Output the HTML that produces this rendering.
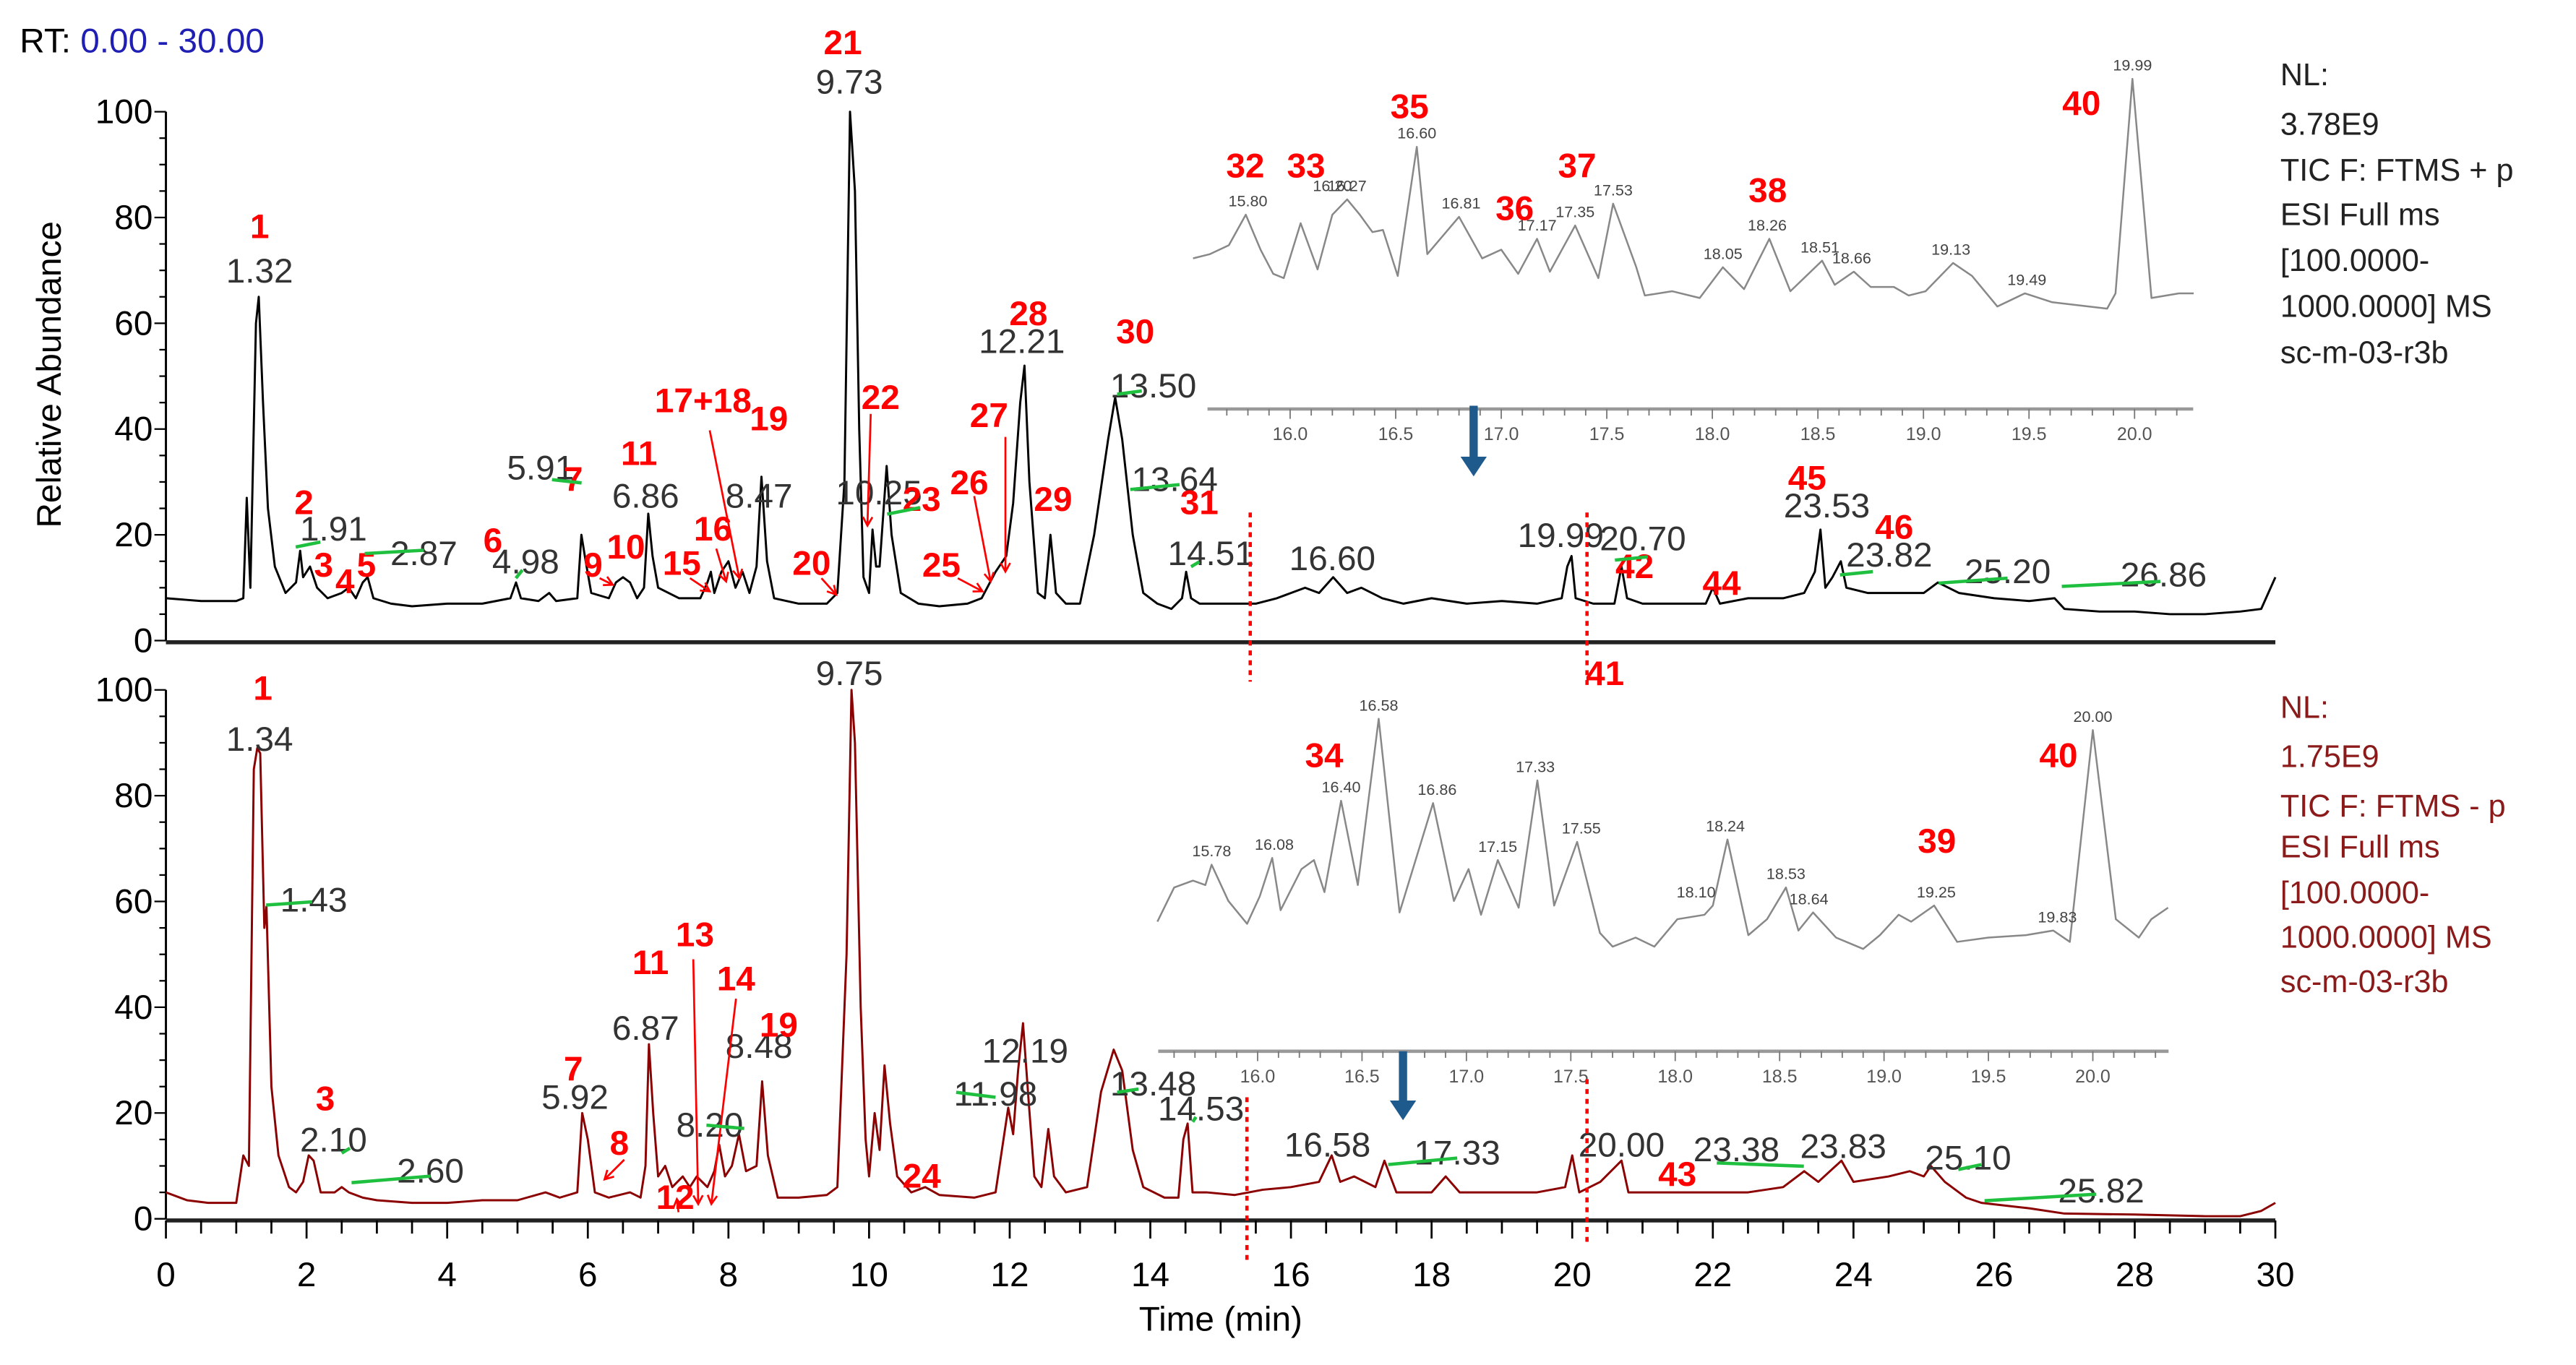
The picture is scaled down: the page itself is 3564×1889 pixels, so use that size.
<!DOCTYPE html>
<html><head><meta charset="utf-8">
<style>
html,body{margin:0;padding:0;background:#fff;}
svg{display:block;font-family:"Liberation Sans",sans-serif;}
.pl{font-size:21px;fill:#333;}
.rn{font-size:21px;fill:#f00;font-weight:bold;}
.nl{font-size:19px;}
</style></head>
<body>
<svg id="chart" width="3564" height="1889" viewBox="0 0 1568 831" preserveAspectRatio="none" xmlns="http://www.w3.org/2000/svg">
<rect x="0" y="0" width="1568" height="831" fill="#fff"/>
<text x="12" y="32" font-size="21"><tspan fill="#000">RT: </tspan><tspan fill="#1f1fb4">0.00 - 30.00</tspan></text>
<text transform="translate(37,228) rotate(-90)" text-anchor="middle" font-size="21" fill="#000">Relative Abundance</text>
<text x="743" y="810" text-anchor="middle" font-size="21" fill="#000">Time (min)</text>
<g class="nl" fill="#222">
<text x="1388" y="52">NL:</text><text x="1388" y="82">3.78E9</text><text x="1388" y="110">TIC F: FTMS + p</text><text x="1388" y="137">ESI Full ms</text><text x="1388" y="165">[100.0000-</text><text x="1388" y="193">1000.0000] MS</text><text x="1388" y="221">sc-m-03-r3b</text>
</g>
<g class="nl" fill="#8b1a1a">
<text x="1388" y="437">NL:</text><text x="1388" y="467">1.75E9</text><text x="1388" y="497">TIC F: FTMS - p</text><text x="1388" y="522">ESI Full ms</text><text x="1388" y="550">[100.0000-</text><text x="1388" y="577">1000.0000] MS</text><text x="1388" y="604">sc-m-03-r3b</text>
</g>
<g id="axes"></g>
<g id="series"></g>
<g id="annot"></g>
</svg>
<script>
// ---- main chromatogram data ----
const topTimes=[0,0.5,1.0,1.1,1.15,1.2,1.28,1.32,1.38,1.45,1.55,1.7,1.85,1.91,1.95,2.05,2.15,2.3,2.5,2.6,2.7,2.8,2.87,2.95,3.2,3.5,4.0,4.5,4.9,4.98,5.05,5.3,5.45,5.55,5.85,5.91,5.97,6.05,6.3,6.4,6.5,6.6,6.7,6.8,6.86,6.92,7.0,7.3,7.6,7.7,7.75,7.8,7.9,8.0,8.1,8.2,8.3,8.4,8.47,8.55,8.65,9.0,9.4,9.55,9.65,9.73,9.8,9.86,9.92,10.0,10.05,10.1,10.15,10.25,10.32,10.45,10.7,11.0,11.4,11.6,11.8,11.95,12.05,12.15,12.21,12.28,12.4,12.5,12.58,12.66,12.8,13.0,13.2,13.4,13.5,13.6,13.75,13.9,14.1,14.3,14.45,14.51,14.58,14.7,15.0,15.5,15.8,16.0,16.2,16.4,16.6,16.8,17.0,17.3,17.6,18.0,18.5,19.0,19.5,19.85,19.93,19.99,20.05,20.3,20.6,20.7,20.78,21.0,21.5,21.9,22.0,22.1,22.5,23.0,23.3,23.45,23.53,23.6,23.7,23.82,23.9,24.2,24.5,25.0,25.2,25.5,26.0,26.5,26.86,27.0,27.5,28.0,28.5,29.0,29.5,29.8,30];
const topValues=[8,7.5,7.5,8,27,10,60,65,45,25,14,9,11,17,12,14,10,8,9,10,8,11,12,8,7,6.5,7,7,8,11,8,7.5,9,7.5,8,20,15,9,8,11,12,11,8,10,24,16,10,8,8,11,13,9,13,15,10,13,9,14,31,15,8,7,7,9,30,100,85,40,12,9,21,14,14,33,20,9,7,6.5,7,8,13,16,26,45,52,30,9,8,20,9,7,7,20,38,46,38,20,9,7,6,8,13,8,7,7,7,8,9,10,9,12,9,10,8,7,8,7,7.5,7,8,14,16,8,7,7,14,8,7,7,7,10,7,8,8,9,13,21,10,12,15,10,9,9,9,11,9,8,7.5,8,6,5.5,5.5,5,5,5.5,6,12];
const botTimes=[0,0.3,0.6,1.0,1.1,1.18,1.25,1.3,1.34,1.4,1.43,1.5,1.6,1.75,1.85,1.95,2.03,2.1,2.2,2.4,2.5,2.6,2.8,3.0,3.5,4.0,4.5,5.0,5.4,5.6,5.85,5.92,6.0,6.1,6.3,6.6,6.75,6.82,6.87,6.93,7.0,7.1,7.2,7.35,7.45,7.55,7.7,7.8,7.87,7.95,8.05,8.15,8.25,8.4,8.48,8.56,8.7,9.0,9.4,9.55,9.68,9.75,9.8,9.88,9.95,10.0,10.08,10.15,10.22,10.3,10.4,10.6,10.8,11.0,11.5,11.8,11.98,12.05,12.12,12.19,12.27,12.35,12.45,12.55,12.63,12.8,13.1,13.3,13.48,13.6,13.75,13.9,14.2,14.4,14.47,14.53,14.6,14.8,15.2,15.6,16.0,16.4,16.58,16.7,16.9,17.2,17.33,17.5,18.0,18.2,18.4,19.0,19.5,19.9,20.0,20.1,20.4,20.7,20.8,21.5,22.0,22.5,23.0,23.3,23.5,23.83,24.0,24.5,24.8,25.0,25.1,25.3,25.6,25.82,26.5,27.0,28.0,29.0,29.5,29.8,30];
const botValues=[5,3.5,3,3,12,10,85,89,88,55,59,25,12,6,5,7,12,11,5,5,6,5,4,3.5,3,3,3.5,3.5,5,4,5,20,15,5,4,5,4,10,33,20,8,10,6,8,6,8,6,9,14,8,10,16,9,10,26,12,4,4,4.5,6,50,100,90,40,15,8,20,13,29,18,8,5,6,4.5,4,5,21,16,28,37,22,8,6,17,8,5,6,24,32,28,13,6,4,4,15,18,5,5,4.5,5.5,6,7,12,7,8,6,11,5,5,8,5,5,5,6,12,5,7,11,5,5,5,5,6,9,7,11,7,8,9,8,10,7,4,3,2,1,0.8,0.5,0.5,1.5,3];
// ---- inset (zoom 15.5-20.3 min) data ----
const insTopTimes=[15.54,15.62,15.71,15.79,15.86,15.92,15.97,16.05,16.13,16.20,16.27,16.33,16.39,16.44,16.51,16.60,16.65,16.80,16.91,17.00,17.08,17.17,17.23,17.35,17.46,17.53,17.64,17.68,17.81,17.94,18.05,18.15,18.27,18.37,18.52,18.58,18.67,18.75,18.86,18.93,19.01,19.14,19.23,19.35,19.48,19.61,19.87,19.91,19.99,20.08,20.21,20.28];
const insTopValues=[24.9,26.7,30.4,43.2,28.6,18.5,16.7,39.6,20.3,43.2,49.6,43.2,35.9,36.8,17.6,71.6,26.7,42.3,24.9,28.6,18.5,33.1,19.4,38.7,16.7,47.8,21.2,9.4,11.2,8.4,21.2,12.1,33.1,11.2,24.0,13.9,19.4,13.0,13.0,9.4,11.2,23.0,17.6,4.8,10.3,6.6,3.9,10.3,100,8.4,10.3,10.3];
const insTopLabels=["15.80","16.20","16.27","16.60","16.81","17.17","17.35","17.53","18.05","18.26","18.51","18.66","19.13","19.49","19.99"];
const insBotTimes=[15.52,15.60,15.69,15.75,15.78,15.86,15.95,16.01,16.07,16.11,16.21,16.27,16.32,16.40,16.48,16.58,16.68,16.84,16.94,17.01,17.07,17.15,17.25,17.34,17.42,17.53,17.64,17.70,17.81,17.90,18.01,18.14,18.18,18.25,18.35,18.44,18.53,18.59,18.66,18.77,18.90,18.98,19.07,19.13,19.24,19.35,19.50,19.68,19.81,19.89,20.00,20.11,20.22,20.28,20.36];
const insBotValues=[16.3,30.4,33.2,31.4,39.8,24.8,15.4,26.7,42.6,21.0,38.0,41.7,28.5,66.2,31.4,100,20.1,65.2,24.8,38.0,19.1,41.7,22.0,74.6,22.9,49.2,11.6,6.0,9.7,6.0,17.3,19.1,22.9,50.2,10.7,17.3,30.4,12.6,20.1,9.7,5.0,10.7,19.1,16.3,22.9,7.9,9.7,10.7,12.6,7.9,95.3,17.3,9.7,17.3,22.0];
const insBotLabels=["15.78","16.08","16.40","16.58","16.86","17.15","17.33","17.55","18.10","18.24","18.53","18.64","19.25","19.83","20.00"];
const yTicks=[0,20,40,60,80,100];
const xTicks=[0,2,4,6,8,10,12,14,16,18,20,22,24,26,28,30];
const insTicks=["16.0","16.5","17.0","17.5","18.0","18.5","19.0","19.5","20.0"];

const NS="http://www.w3.org/2000/svg";
const X0=101,PXM=42.8;
const xMain=t=>X0+t*PXM;
const yTop=v=>390-v*3.22;
const yBot=v=>742-v*3.22;
const xInsTop=t=>785.3+(t-16)*128.5;
const yInsTop=v=>193.6-v*1.456;
const xInsBot=t=>765.5+(t-16)*127.1;
const yInsBot=v=>585.1-v*1.475;
function mk(tag,attrs,parent){const e=document.createElementNS(NS,tag);for(const k in attrs)e.setAttribute(k,attrs[k]);parent.appendChild(e);return e;}
function interp(ts,vs,t){let best=0,bd=1e9;for(let i=0;i<ts.length;i++){const d=Math.abs(ts[i]-t);if(d<bd){bd=d;best=i;}}
 // local max around nearest
 let m=vs[best];for(let i=Math.max(0,best-1);i<=Math.min(vs.length-1,best+1);i++)m=Math.max(m,vs[i]);return m;}
const axes=document.getElementById('axes'),ser=document.getElementById('series'),ann=document.getElementById('annot');

// y axes
[[yTop,'top'],[yBot,'bottom']].forEach(([yf,nm])=>{
 let l=mk('line',{x1:X0,y1:yf(0),x2:X0,y2:yf(100),stroke:'#000','stroke-width':1.3},axes);
 
 
 for(let v=0;v<=100;v+=5){const t=mk('line',{x1:X0-(v%20===0?7:4),y1:yf(v),x2:X0,y2:yf(v),stroke:'#000','stroke-width':1},axes);
  
  }
 yTicks.forEach(v=>{const t=mk('text',{x:X0-8,y:yf(v)+7,'text-anchor':'end','font-size':21,fill:'#000'},axes);t.textContent=v;
  
  });
 const xl=mk('line',{x1:X0,y1:yf(0)+1,x2:xMain(30),y2:yf(0)+1,stroke:'#222','stroke-width':2.5},axes);
 
 
});
for(let t=0;t<=30;t+=0.5){const tk=mk('line',{x1:xMain(t),y1:743,x2:xMain(t),y2:t%2===0?754:751,stroke:'#000','stroke-width':1.2},axes);
 
 }
xTicks.forEach(t=>{const tx=mk('text',{x:xMain(t),y:783,'text-anchor':'middle','font-size':21,fill:'#000'},axes);tx.textContent=t;
 
 });

// inset axes
[[xInsTop,249,735,1335,'top'],[xInsBot,640,705,1320,'bottom']].forEach(([xf,ay,xa,xb,nm])=>{
 const l=mk('line',{x1:xa,y1:ay,x2:xb,y2:ay,stroke:'#999','stroke-width':2},axes);
 
 
 for(let k=155;k<=203;k++){const t=k/10;const x=xf(t);if(x<xa||x>xb)continue;
  const tk=mk('line',{x1:x,y1:ay,x2:x,y2:ay+(k%5===0?6:4),stroke:'#777','stroke-width':0.8},axes);
  
  }
 insTicks.forEach(s=>{const tx=mk('text',{x:xf(parseFloat(s)),y:ay+19,'text-anchor':'middle','font-size':11,fill:'#555'},axes);tx.textContent=s;
  
  });
});

// series
function poly(ts,vs,xf,yf,col,w,name){const pts=ts.map((t,i)=>xf(t).toFixed(1)+','+yf(vs[i]).toFixed(1)).join(' ');
 const p=mk('polyline',{points:pts,fill:'none',stroke:col,'stroke-width':w,'stroke-linejoin':'round'},ser);
 
 }
poly(topTimes,topValues,xMain,yTop,'#000',1.3,'positive-mode-trace');
poly(botTimes,botValues,xMain,yBot,'#8b0000',1.3,'negative-mode-trace');
poly(insTopTimes,insTopValues,xInsTop,yInsTop,'#888',1.1,'positive-inset-trace');
poly(insBotTimes,insBotValues,xInsBot,yInsBot,'#888',1.1,'negative-inset-trace');
insTopLabels.forEach(s=>{const t=parseFloat(s);const v=interp(insTopTimes,insTopValues,t);
 const tx=mk('text',{x:xInsTop(t),y:yInsTop(v)-5,'text-anchor':'middle','font-size':9.5,fill:'#444'},ser);tx.textContent=s;
 
 });
insBotLabels.forEach(s=>{const t=parseFloat(s);const v=interp(insBotTimes,insBotValues,t);
 const tx=mk('text',{x:xInsBot(t),y:yInsBot(v)-5,'text-anchor':'middle','font-size':9.5,fill:'#444'},ser);tx.textContent=s;
 
 });

// annotations: peak RT labels
const topRT=[["1.32",158,172],["9.73",517,57],["1.91",203,329],["2.87",258,344],["4.98",320,349],["5.91",329,292],["6.86",393,309],["8.47",462,309],["10.25",535,307],["12.21",622,215],["13.50",702,242],["13.64",715,299],["14.51",737,344],["16.60",811,347],["19.99",950,333],["20.70",1000,335],["23.53",1112,315],["23.82",1150,345],["25.20",1222,355],["26.86",1317,357]];
const botRT=[["9.75",517,417],["1.34",158,457],["1.43",191,555],["2.10",203,701],["2.60",262,720],["5.92",350,675],["6.87",393,633],["8.20",432,692],["8.48",462,644],["11.98",606,673],["12.19",624,647],["13.48",702,667],["14.53",731,682],["16.58",808,704],["17.33",887,709],["20.00",987,704],["23.38",1057,707],["23.83",1122,705],["25.10",1198,712],["25.82",1279,732]];
topRT.concat(botRT).forEach(([s,x,y])=>{const t=mk('text',{x:x,y:y,'text-anchor':'middle',class:'pl'},ann);t.textContent=s;
 
 });
const cmp=[["1",158,145],["21",513,33],["2",185,313],["3",197,351],["4",210,361],["5",223,351],["6",300,336],["7",349,299],["9",361,351],["10",381,340],["11",389,283],["15",415,350],["16",434,329],["17+18",428,251],["19",468,262],["20",494,350],["22",536,249],["23",561,311],["25",573,351],["26",590,301],["27",602,260],["28",626,198],["29",641,311],["30",691,209],["31",730,313],["32",758,108],["33",795,108],["35",858,72],["36",922,134],["37",960,108],["38",1076,123],["40",1267,70],["41",977,417],["42",995,352],["44",1048,362],["45",1100,298],["46",1153,328],
["1",160,426],["3",198,676],["7",349,658],["8",377,703],["11",396,593],["12",411,736],["13",423,576],["14",448,603],["19",474,631],["24",561,723],["34",806,467],["39",1179,519],["40",1253,467],["43",1021,722]];
cmp.forEach(([s,x,y])=>{const t=mk('text',{x:x,y:y,'text-anchor':'middle',class:'rn'},ann);t.textContent=s;
 
 });
// red pointer arrows
const arrows=[[432,262,450,352],[436,334,442,354],[420,352,432,360],[365,352,373,356],[500,352,509,362],[530,252,528,320],[593,302,603,354],[612,266,612,348],[583,352,598,360],[380,706,368,718],[422,584,425,733],[448,608,433,733],[413,738,412,730]];
arrows.forEach(([x1,y1,x2,y2])=>{const l=mk('line',{x1,y1,x2,y2,stroke:'#f00','stroke-width':1.2},ann);
 
 
 const a=Math.atan2(y2-y1,x2-x1),h=6;
 const p=mk('polyline',{points:`${x2-h*Math.cos(a-0.5)},${y2-h*Math.sin(a-0.5)} ${x2},${y2} ${x2-h*Math.cos(a+0.5)},${y2-h*Math.sin(a+0.5)}`,fill:'none',stroke:'#f00','stroke-width':1.2},ann);
 
 });
// green markers
const greens=[[180,333,195,330],[222,337,258,335],[314,352,318,347],[336,292,354,294],[540,313,560,309],[680,240,695,238],[688,298,718,295],[725,345,730,342],[983,341,1003,339],[1120,350,1140,348],[1180,355,1222,352],[1255,357,1315,354],[162,551,190,549],[208,702,213,699],[214,720,262,716],[430,685,453,687],[582,665,606,668],[680,665,693,663],[726,683,728,680],[845,709,887,705],[1045,708,1098,710],[1192,712,1206,709],[1208,731,1276,727]];
greens.forEach(([x1,y1,x2,y2])=>{const l=mk('line',{x1,y1,x2,y2,stroke:'#1fbf3f','stroke-width':2},ann);
 
 });
// red dotted lines
const dots=[[761,312,761,415],[759,668,759,770],[966,312,966,417],[966,657,966,757]];
dots.forEach(([x1,y1,x2,y2])=>{const l=mk('line',{x1,y1,x2,y2,stroke:'#f00','stroke-width':2,'stroke-dasharray':'3,3'},ann);
 
 });
// blue arrows
[[897,247,290],[854,640,682]].forEach(([x,y1,y2])=>{
 const l=mk('line',{x1:x,y1:y1,x2:x,y2:y2-10,stroke:'#1f5a8c','stroke-width':5},ann);
 
 
 const h=mk('polygon',{points:`${x-8},${y2-12} ${x+8},${y2-12} ${x},${y2}`,fill:'#1f5a8c'},ann);
 
 });
</script>
</body></html>
